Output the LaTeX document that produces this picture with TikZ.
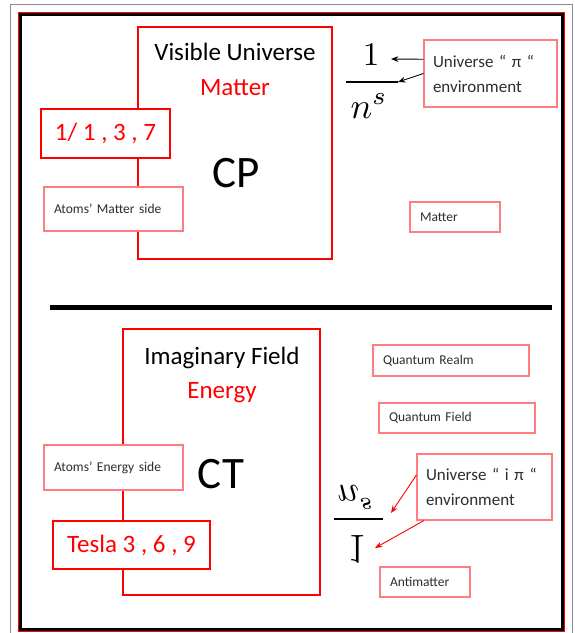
\documentclass[tikz,border=0pt]{standalone}
\usepackage{fontspec}
\setmainfont{Carlito}
\usepackage{xcolor}
\usepackage{tikz}
\usetikzlibrary{arrows.meta, positioning}
\definecolor{cRed}{HTML}{FF0000}
\definecolor{cPink}{HTML}{FF7C80}
\definecolor{cText}{HTML}{2E2E2E}
\definecolor{cFrame}{HTML}{8C8C8C}
\tikzstyle{bigbox}  = [rectangle, draw=cRed, line width=2.2pt, inner sep=0pt]
\tikzstyle{tag}     = [rectangle, draw=cRed, line width=1.5pt, fill=white, text=cRed, align=center, font=\fontsize{25}{30}\selectfont]
\tikzstyle{note}    = [rectangle, draw=cPink, line width=1.2pt, fill=white, text=cText, align=left, inner xsep=10pt, font=\fontsize{13.5}{15}\selectfont]
\tikzstyle{envbox}  = [note, inner xsep=9pt, font=\fontsize{17}{25}\selectfont]
\tikzstyle{title}   = [inner sep=0pt, anchor=base, font=\fontsize{25}{30}\selectfont]
\tikzstyle{sym}     = [inner sep=0pt, anchor=base, font=\fontsize{45}{54}\selectfont]
\tikzstyle{arrow}   = [line width=0.9pt, -{Stealth[length=2.6mm, width=2mm]}]

\begin{document}
\begin{tikzpicture}[x=1pt, y=-1pt]
\useasboundingbox (0,0) rectangle (575,633);
% frames
\draw [cFrame, line width=1pt] (10,633) |- (572,4) -- (572,633);
\draw [cRed, line width=1.6pt] (18.5,12.5) rectangle (564.5,631.5);
\draw [black, line width=2.6pt] (20.5,14.5) rectangle (562.5,629.5);
\draw [black, line width=5pt] (50,307) -- (552,307);

% matter side
\node (visbox) [bigbox, minimum width=194pt, minimum height=232pt] at (235,143) {};
\node (vistitle) [title] at (235,60) {Visible Universe};
\node (vismatter) [title, text=cRed] at (235,95) {Matter};
\node (cp) [sym] at (236,187) {CP};
\node (seq) [tag, minimum width=129pt, minimum height=49pt] at (105.5,133.5) {1/ 1 , 3 , 7};
\node (atomsM) [note, text width=119pt, minimum height=44pt] at (113.5,209) {Atoms’ Matter side};
\node (matter) [note, text width=70pt, minimum height=30pt] at (455,217) {Matter};

\node (one) [inner sep=0pt, anchor=base, scale=3.3] at (371,65) {$1$};
\coordinate (barL) at (346,82);
\coordinate (barR) at (398,82);
\draw [line width=1.8pt] (barL) -- (barR);
\node (ns) [inner sep=0pt, anchor=base, scale=3.6] at (369,118) {$n^{s}$};
\node (unipi) [envbox, text width=115pt, minimum height=67pt] at (490.5,73.5) {Universe “ π “\\environment};
\coordinate (onetip) at (391,59);
\draw [arrow] (unipi.168) -- (onetip);
\draw [arrow] (unipi.west) -- (barR);

% energy side
\node (imbox) [bigbox, minimum width=197pt, minimum height=266pt] at (221.5,462) {};
\node (imtitle) [title] at (222,364) {Imaginary Field};
\node (imenergy) [title, text=cRed] at (222,398) {Energy};
\node (ct) [sym] at (221,488) {CT};
\node (atomsE) [note, text width=119pt, minimum height=45pt] at (113.5,467.5) {Atoms’ Energy side};
\node (tesla) [tag, minimum width=157pt, minimum height=48pt] at (131.5,545) {Tesla 3 , 6 , 9};
\node (qrealm) [note, text width=136pt, minimum height=31pt] at (451,360.5) {Quantum Realm};
\node (qfield) [note, text width=136pt, minimum height=30pt] at (457,418) {Quantum Field};
\node (anti) [note, text width=70pt, minimum height=30pt] at (425,582) {Antimatter};

\node (fns) [inner sep=0pt, anchor=base, xscale=3.6, yscale=-3.6] at (356,485) {$n^{s}$};
\coordinate (fbarL) at (334,519);
\coordinate (fbarR) at (383,519);
\draw [line width=1.8pt] (fbarL) -- (fbarR);
\node (fone) [inner sep=0pt, anchor=base, xscale=3.6, yscale=-4.2] at (357,535) {$1$};
\node (uniipi) [envbox, text width=117pt, minimum height=66pt] at (484.5,487) {Universe “ i π “\\environment};
\coordinate (fbartip) at (391,513);
\coordinate (fonetip) at (375,548);
\draw [arrow, cRed] (uniipi.170) -- (fbartip);
\draw [arrow, cRed] (uniipi.209) -- (fonetip);
\end{tikzpicture}
\end{document}
